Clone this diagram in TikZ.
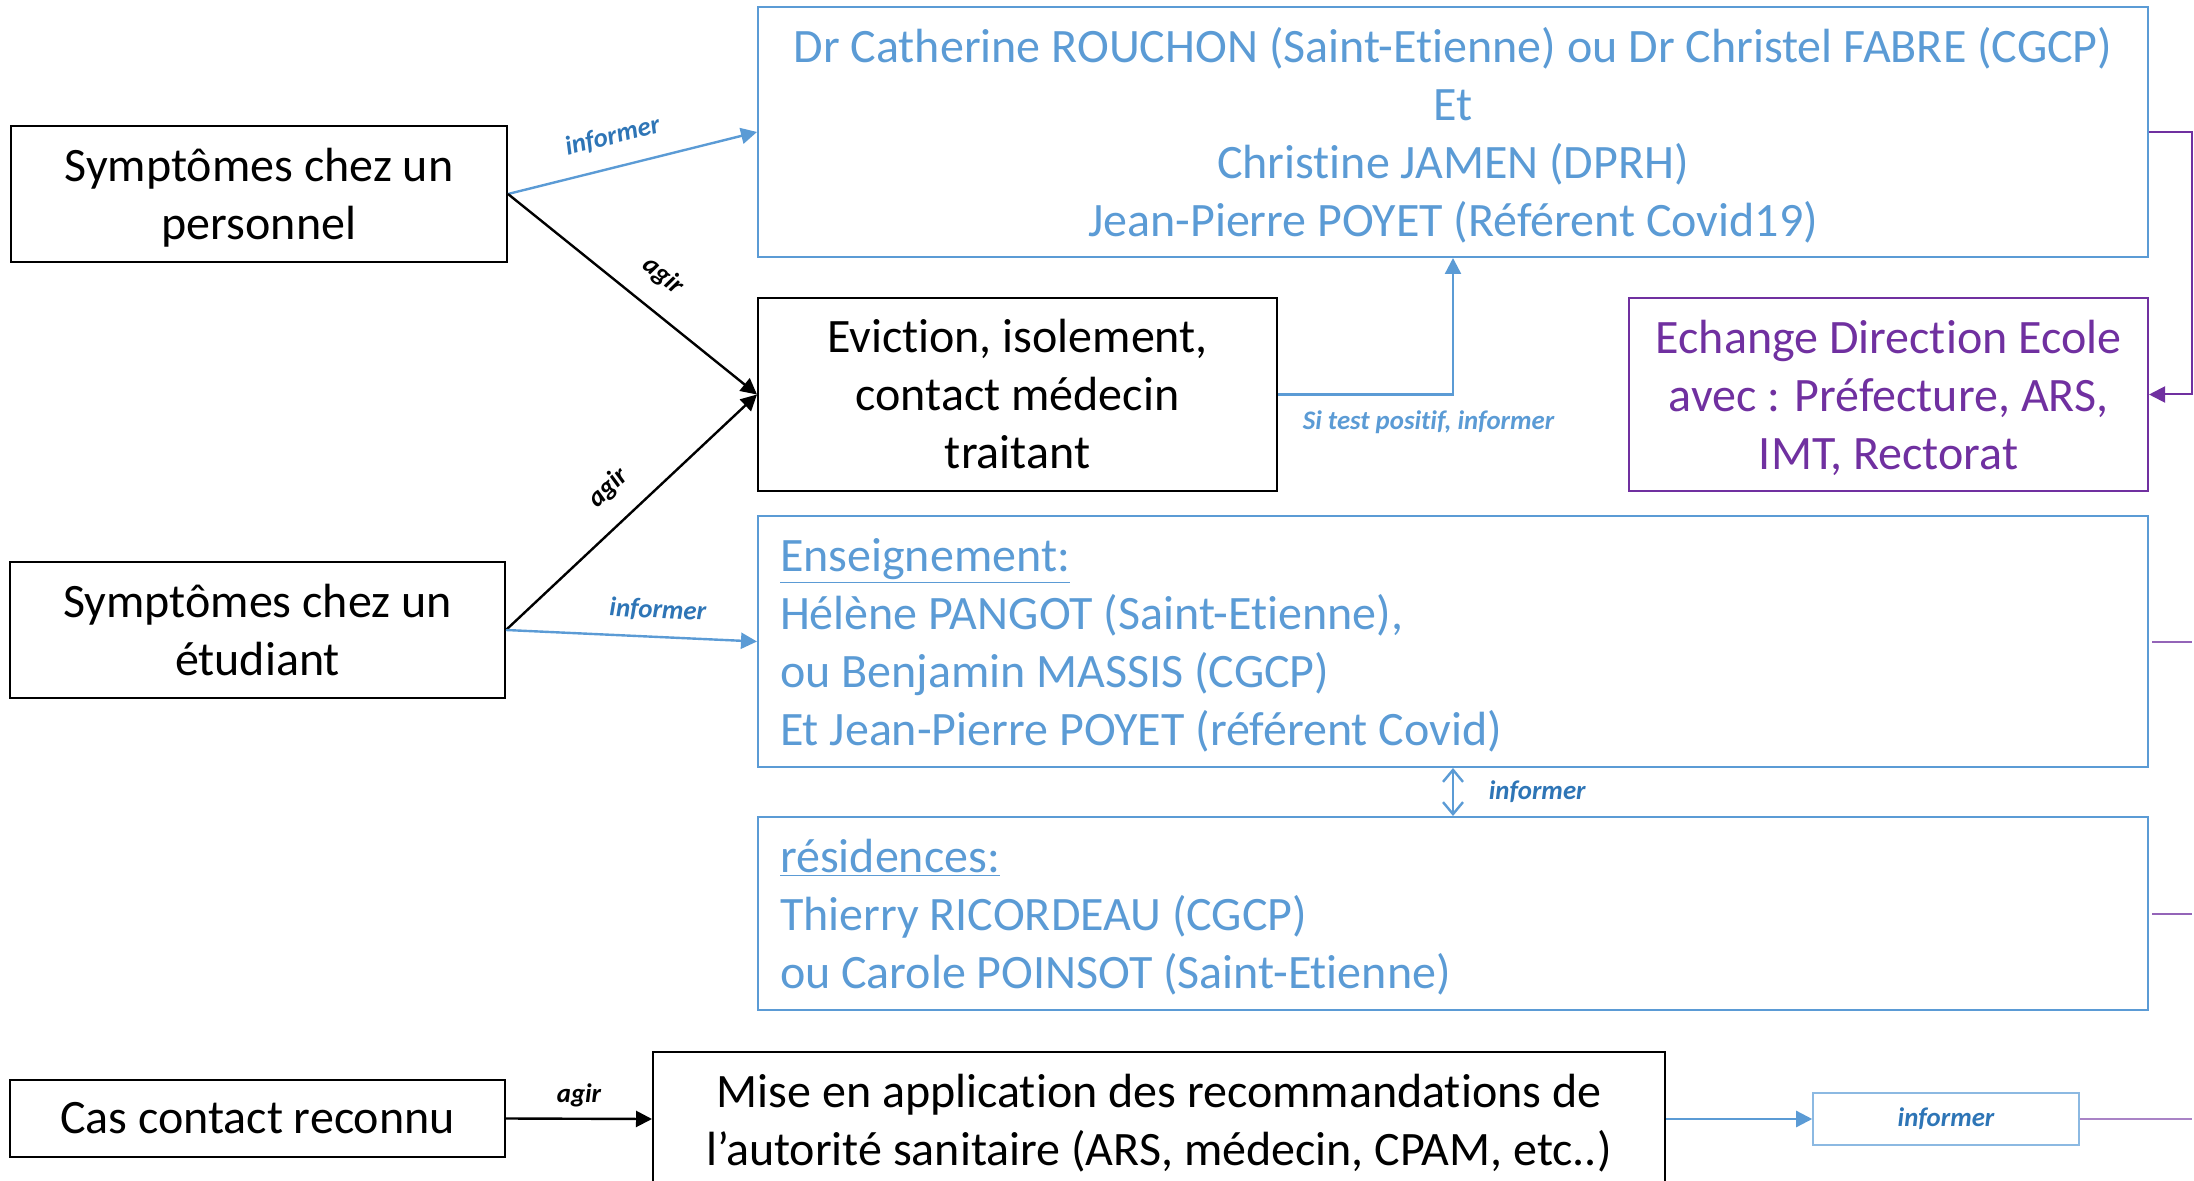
\documentclass[tikz,border=0pt]{standalone}
\usepackage{fontspec}
\setmainfont[Ligatures=NoCommon]{Carlito}
\usetikzlibrary{arrows.meta}
\definecolor{bleu}{HTML}{5B9BD5}
\definecolor{bleufonce}{HTML}{2E75B6}
\definecolor{violetdir}{HTML}{7030A0}
\newcommand{\hautligne}{\rule{0pt}{20.5pt}}
\tikzstyle{boite}=[rectangle, draw=black, line width=1pt, align=center, inner sep=0, font=\fontsize{24}{29}\selectfont]
\tikzstyle{boitebleue}=[boite, draw=bleu, text=bleu]
\tikzstyle{liste}=[boitebleue, align=flush left, inner xsep=11pt, text width=673pt, execute at begin node=\hautligne]
\tikzstyle{etiq}=[font=\fontsize{13.4}{15}\selectfont\bfseries\itshape, text=bleufonce]
\tikzstyle{agir} = [line width=1.2pt,->,>={Triangle[length=8pt,width=8pt]}]
\tikzstyle{informer} = [agir, draw=bleu]
\tikzstyle{lien} = [line width=1pt, violetdir]

\begin{document}
\begin{tikzpicture}[x=0.5pt,y=-0.5pt]
\useasboundingbox (0,0) rectangle (2194,1181);
\clip (0,0) rectangle (2194,1181);
\coordinate (bord) at (2192,0);

% colonne de gauche
\node[boite, minimum width=248pt, minimum height=68pt] (pers) at (259,194) {\hautligne Symptômes chez un\\personnel};
\node[boite, minimum width=247.5pt, minimum height=68pt] (etud) at (257.5,630) {Symptômes chez un\\étudiant};
\node[boite, minimum width=247.5pt, minimum height=38.5pt] (cas) at (257.5,1118.5) {Cas contact reconnu};

% boites de droite
\node[boitebleue, minimum width=695pt, minimum height=125pt] (medecins) at (1453,132)
  {\hautligne Dr Catherine ROUCHON (Saint-Etienne) ou Dr Christel FABRE (CGCP)\\Et\\Christine JAMEN (DPRH)\\Jean-Pierre POYET (Référent Covid19)};
\node[boite, minimum width=259.5pt, minimum height=96.5pt] (eviction) at (1017.5,394.5)
  {Eviction, isolement,\\contact médecin\\traitant};
\node[boite, draw=violetdir, text=violetdir, minimum width=259.5pt, minimum height=96.5pt] (echange) at (1888.5,394.5)
  {\hautligne Echange Direction Ecole\\avec : Préfecture, ARS,\\IMT, Rectorat};
\node[liste, minimum height=125.5pt] (enseignement) at (1453,641.5)
  {\underline{Enseignement:}\\Hélène PANGOT (Saint-Etienne),\\ou Benjamin MASSIS (CGCP)\\Et Jean-Pierre POYET (référent Covid)};
\node[liste, minimum height=96.5pt] (residences) at (1453,913.5)
  {\underline{résidences:}\\Thierry RICORDEAU (CGCP)\\ou Carole POINSOT (Saint-Etienne)};
\node[boite, minimum width=506pt, minimum height=67pt] (mise) at (1159,1119)
  {\hautligne Mise en application des recommandations de\\l’autorité sanitaire (ARS, médecin, CPAM, etc..)};
\node[boite, draw=bleu!70, line width=0.8pt, minimum width=133pt, minimum height=26pt, etiq] (info) at (1946,1119) {informer};

% fleches
\draw[informer] (pers.east) -- node[etiq, sloped, above=6pt, pos=0.45] {informer} (medecins.west);
\draw[agir] (pers.east) -- node[etiq, text=black, sloped, above=7pt, pos=0.54] {agir} (eviction.west);
\draw[agir] (etud.east) -- node[etiq, text=black, sloped, above=7pt, pos=0.5] {agir} (eviction.west);
\draw[informer] (etud.east) -- node[etiq, sloped, above=4pt, pos=0.6] {informer} (enseignement.west);
\draw[informer] (eviction.east) -| node[etiq, text=bleu, below=4pt, pos=0.43] {Si test positif, informer} (medecins.south);
\draw[informer, <->, >={Straight Barb[length=6pt,width=10pt]}] (enseignement.south) -- node[etiq, right=14pt] {informer} (residences.north);
\draw[agir] (cas.east) -- node[etiq, text=black, above=2pt] {agir} (mise.west);
\draw[informer] (mise.east) -- (info.west);

% liaisons vers la droite
\draw[lien, ->, >={Triangle[length=8pt,width=8pt]}] (medecins.east) -- (medecins.east -| bord) |- (echange.east);
\draw[lien, violetdir!75] (enseignement.east) ++(3,0) -- (enseignement.east -| bord);
\draw[lien, violetdir!75] (residences.east) ++(3,0) -- (residences.east -| bord);
\draw[lien, violetdir!60] (info.east) -- (info.east -| bord);
\end{tikzpicture}
\end{document}
